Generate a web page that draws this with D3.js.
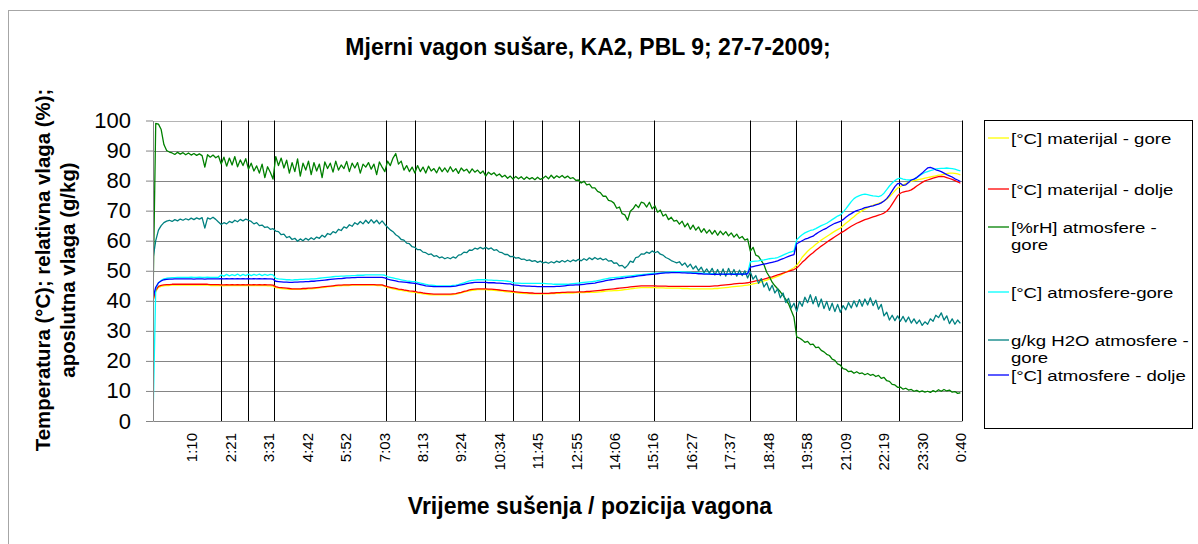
<!DOCTYPE html>
<html><head><meta charset="utf-8">
<script src="https://cdn.jsdelivr.net/npm/d3@7"></script>
<style>
body{margin:0;background:#fff;}
svg text{font-family:Arial,"Liberation Sans",sans-serif;fill:#000;}
</style>
</head><body>
<svg id="chart" width="1198" height="544"></svg>
<script>
// ---------- texts ----------
const chartTitle = "Mjerni vagon sušare, KA2, PBL 9; 27-7-2009;";
const xTitle = "Vrijeme sušenja / pozicija vagona";
const yTitleLines = ["Temperatura (°C); relativna vlaga (%);", "aposlutna vlaga (g/kg)"];

// ---------- axes ----------
const yTicks = [0,10,20,30,40,50,60,70,80,90,100];
const tickMinutes = [70,141,211,282,352,423,493,564,634,705,775,846,916,987,1057,1128,1198,1269,1339,1410,1480];
const tickLabels = ["1:10","2:21","3:31","4:42","5:52","7:03","8:13","9:24","10:34","11:45","12:55","14:06","15:16","16:27","17:37","18:48","19:58","21:09","22:19","23:30","0:40"];
// wagon position marks (minutes from start)
const wagonMinutes = [125,174,222,428,480,609,660,714,781,918,1094,1178,1261,1367,1483];

// ---------- series ----------
const seriesNames = ["[°C] materijal - gore","[°C] materijal - dolje","[%rH] atmosfere - gore","[°C] atmosfere-gore","g/kg H2O atmosfere - gore","[°C] atmosfere - dolje"];
const legendLines = [["[°C] materijal - gore"],["[°C] materijal - dolje"],["[%rH] atmosfere -","gore"],["[°C] atmosfere-gore"],["g/kg H2O atmosfere -","gore"],["[°C] atmosfere - dolje"]];

// sample times: minutes from start, every 5 minutes (0 ... 1480)
const minutes = d3.range(0, 1481, 5);

const matGore = [
40,43,44.5,44.8,45,45.1,45.1,45.2,45.2,45.2,45.2,45.2,
45.2,45.2,45.2,45.2,45.2,45.2,45.2,45.2,45.2,45.1,45.1,45.1,
45.1,45.1,45,45.1,45.1,45.1,45.1,45.1,45.1,45.1,45.1,45.1,
45.1,45.1,45.1,45.1,45.1,45.1,45,45,44.9,44.4,44.2,44.1,
44,43.9,43.8,43.8,43.8,43.8,43.8,43.9,43.9,44,44,44.1,
44.2,44.3,44.4,44.5,44.6,44.7,44.8,44.9,45,45,45.1,45.1,
45.1,45.2,45.2,45.2,45.2,45.2,45.2,45.2,45.2,45.2,45.1,45.1,
45.1,44.8,44.4,44.2,44,43.8,43.6,43.5,43.3,43.2,43,42.9,
42.8,42.6,42.5,42.3,42.2,42.1,42,42,42,42,42,42,
42,42,42.1,42.2,42.4,42.6,42.9,43.1,43.3,43.5,43.6,43.7,
43.7,43.7,43.7,43.6,43.6,43.5,43.4,43.3,43.2,43.1,43,42.9,
42.8,42.7,42.6,42.5,42.5,42.4,42.4,42.3,42.3,42.3,42.3,42.3,
42.3,42.3,42.4,42.4,42.5,42.5,42.6,42.6,42.6,42.6,42.6,42.7,
42.7,42.7,42.7,42.8,42.8,42.8,42.8,42.9,43,43.1,43.2,43.3,
43.3,43.4,43.4,43.5,43.6,43.7,43.8,44,44.1,44.2,44.3,44.4,
44.4,44.4,44.4,44.4,44.4,44.3,44.3,44.3,44.2,44.2,44.2,44.2,
44.2,44.2,44.1,44.1,44.1,44,44,44,44,44,44,44,
44,44,44.1,44.1,44.2,44.3,44.4,44.5,44.6,44.7,44.8,44.9,
45,45.1,45.2,45.4,45.6,45.8,46,46.3,46.6,46.9,47.2,47.5,
47.8,48.1,48.5,49,49.5,50,50.5,51,51.8,53,54.5,55.5,
56.5,57.3,58,58.8,59.5,60.2,60.8,61.4,62,62.6,63.2,63.7,
64.2,65,65.8,66.5,67.3,68,68.8,69.4,70,70.5,71,71.4,
71.8,72.1,72.4,72.8,73.2,73.8,74.6,75.6,76.6,77.5,78,78.5,
79,79.4,79.8,80,80.2,80.4,80.6,80.8,81,81.2,81.4,81.6,
81.8,81.9,82.1,82.3,82.5,82.5,82.4,82.2,81.9];

const matDolje = [
40,43.5,44.8,45.1,45.3,45.4,45.4,45.5,45.5,45.5,45.5,45.5,
45.5,45.5,45.5,45.5,45.5,45.5,45.5,45.5,45.5,45.4,45.4,45.4,
45.4,45.3,45.3,45.4,45.3,45.4,45.3,45.4,45.3,45.4,45.3,45.4,
45.3,45.4,45.3,45.4,45.3,45.4,45.3,45.3,45.2,44.7,44.5,44.4,
44.3,44.2,44.1,44,44,44,44,44.1,44.1,44.2,44.2,44.3,
44.4,44.5,44.6,44.7,44.8,44.9,45,45.1,45.2,45.2,45.3,45.3,
45.3,45.4,45.4,45.4,45.4,45.4,45.4,45.4,45.4,45.4,45.3,45.3,
45.3,45,44.7,44.5,44.3,44.1,43.9,43.8,43.6,43.5,43.3,43.2,
43.1,42.9,42.8,42.6,42.5,42.4,42.3,42.2,42.2,42.2,42.2,42.2,
42.2,42.2,42.3,42.4,42.6,42.8,43.1,43.3,43.6,43.8,43.9,44,
44,44,44,43.9,43.9,43.8,43.7,43.6,43.5,43.4,43.3,43.2,
43.1,43,42.9,42.8,42.7,42.7,42.6,42.6,42.5,42.5,42.5,42.5,
42.5,42.5,42.6,42.6,42.7,42.7,42.8,42.8,42.9,42.9,42.9,42.9,
43,43,43,43.1,43.1,43.2,43.3,43.4,43.5,43.6,43.7,43.8,
43.9,44,44.1,44.2,44.3,44.4,44.5,44.6,44.7,44.8,44.9,45,
45,45,45,45,45,44.9,44.9,44.9,44.9,44.8,44.8,44.8,
44.8,44.8,44.8,44.8,44.8,44.8,44.8,44.8,44.8,44.8,44.8,44.8,
44.8,44.9,45,45,45.1,45.2,45.3,45.4,45.5,45.6,45.7,45.8,
45.8,45.9,46,46.2,46.4,46.6,46.8,47,47.2,47.5,47.8,48,
48.3,48.6,48.9,49.2,49.5,49.8,50.1,50.4,50.9,51.8,52.8,53.6,
54.5,55.3,56,56.8,57.5,58.2,58.8,59.5,60.1,60.7,61.3,61.9,
62.5,63,63.6,64.2,64.8,65.3,65.8,66.2,66.6,67,67.3,67.6,
67.9,68.2,68.5,68.8,69.2,69.8,70.8,72.2,73.6,75,75.8,76.2,
76.4,76.6,76.9,77.5,78.2,78.8,79.4,79.9,80.2,80.5,80.8,81.1,
81.3,81.4,81.3,81,80.7,80.4,80,79.6,79.1];

const rhGore = [
40,99,98.8,97,92,90,89.5,89.2,88.7,89.4,88.8,89.3,
88.6,89.2,88.5,89,88.4,88.9,88.3,84.5,88.6,87.8,88.5,87.6,
88.2,85.5,87.8,84.8,87.5,85.2,88,84.6,86.9,85,87.3,83.8,
85.8,83.2,84.9,82.5,85.5,81,84.6,82.8,80.5,88,85,87.5,
84.2,86.8,82.5,86,83,87.2,81.5,85.8,83.5,86.5,82,86,
83.2,85.5,81,86.2,84,85.8,82.8,86.5,83.5,85.2,84,86.4,
83,85.8,84.2,86,82.5,85.5,84.5,86,83.8,85.5,82,86.2,
84.5,83,86.5,85,87.5,89,85.5,86.5,83.5,85,83,84.5,
82.5,85,83,84.5,82.5,84.8,83.2,84,82.6,84.5,83,84.2,
82.8,84.6,83,84,82.4,84.2,83.2,83.8,82.5,83.9,82.8,83.5,
82.4,83.2,81.5,82.8,82,82.6,81.6,82.2,81.2,81.8,80.8,81.5,
80.5,81.4,80.6,81.3,80.4,81.2,80.5,81,80.3,81.1,80.4,80.8,
81.5,80.6,81.8,80.8,81.6,81,81.7,80.9,81.5,80.7,81,80.1,
80.2,79.2,79.8,78.6,78.8,77.6,77.6,76.4,76,74.8,74.8,73.4,
73.2,72.5,70.8,71.2,69,68.6,66.8,69.8,70.6,72,71,72.8,
72.5,71.2,72.8,70.6,71.6,69.5,70.2,68.2,68.8,67,67.8,66.5,
66.8,65.5,66.5,64.6,65.8,63.8,65.2,63.5,64.6,62.8,64,62.5,
63.6,62.2,63.4,61.8,63.2,62,63,61.6,62.6,61.2,62.2,60.8,
61.4,60.2,60.6,56.5,57.8,55.2,54.8,53.4,52,49.5,48,46.2,
45,44,43,41.8,40.5,39,36.8,34.5,28,27.6,27,26.2,
26.5,25.4,25.6,24.4,24.6,23.5,23,22.2,21.8,20.6,20.2,19,
18.6,17.4,17.2,16.4,16.6,15.9,16.4,15.8,16,15.4,15.8,15.2,
15.5,14.8,15.2,14.2,14.5,13.4,13.2,12.2,12,11.2,11.3,10.6,
10.9,10.3,10.5,9.9,10.2,9.7,10,9.6,9.9,9.5,10.1,9.7,
10.4,9.9,10.5,10,10.3,9.6,9.8,9.2,9.4];

const atmGore = [
0,44,46,46.8,47.3,47.5,47.6,47.7,47.7,47.8,47.8,47.8,
47.8,47.8,47.9,47.8,47.8,47.9,47.8,47.8,47.9,47.8,47.8,47.8,
47.8,48.6,48.2,48.8,48.3,48.7,48.4,48.9,48.3,48.8,48.4,48.9,
48.4,48.8,48.5,48.9,48.4,48.8,48.5,48.8,48.6,47.5,47.3,47.2,
47.1,47,47,46.9,47,47,47.1,47.1,47.2,47.2,47.3,47.3,
47.4,47.5,47.6,47.7,47.8,47.9,48,48.1,48.1,48.2,48.2,48.3,
48.3,48.4,48.4,48.5,48.5,48.5,48.6,48.6,48.6,48.6,48.6,48.6,
48.6,48.5,48,47.8,47.6,47.4,47.2,47,46.8,46.6,46.5,46.4,
46.4,46.1,45.9,45.7,45.5,45.3,45.2,45.1,45,45,45,45,
45,45,45.1,45.2,45.4,45.7,46,46.3,46.6,46.8,46.9,47,
47,47,47,46.9,46.9,46.8,46.8,46.7,46.7,46.6,46.5,46.4,
46,45.9,45.9,45.8,45.8,45.8,45.8,45.8,45.8,45.8,45.8,45.8,
45.7,45.6,45.6,45.5,45.5,45.5,45.5,45.5,45.5,45.6,45.7,45.8,
45.9,46,46.1,46.2,46.3,46.4,46.5,46.7,46.9,47.1,47.3,47.5,
47.6,47.7,47.8,47.9,48,48.1,48.2,48.3,48.4,48.5,48.6,48.7,
48.8,48.9,49,49.1,49.2,49.2,49.3,49.4,49.5,49.5,49.6,49.6,
49.7,49.7,49.6,49.6,49.5,49.5,49.4,49.4,49.3,49.2,49.2,49.1,
49,49,49,48.9,48.9,48.9,48.9,49,49,49,49,49,
49,49,49.1,53,53.1,53.2,53.3,53.5,53.6,53.8,54,54.1,
54.2,54.4,54.8,55.2,55.6,56,56.3,56.6,60.3,61.2,62,62.6,
63,63.4,63.6,64,64.5,65,65.4,65.8,66.4,67,67.6,68.2,
68.6,69.5,70.6,71.8,73,74,74.6,75,75.3,75.5,75.3,75.1,
74.9,74.8,74.7,75,75.8,77,78.2,79.2,80,80.6,80.8,80.5,
80.3,80.2,80.2,80.5,81,81.6,82.2,82.7,83,83.3,83.6,83.9,
84,84.1,84.1,84.2,84.1,84,83.8,83.5,83.2];

const h2oGore = [
54,60,63.5,65,66,66.5,66.8,66.4,67,66.6,67.2,66.8,
67.3,66.9,67.5,67,67.6,67.2,67.7,64.2,67.6,67.2,67.8,67.1,
66.2,65.4,66,65.6,66.4,66,66.8,66.3,67.1,66.6,67.2,66.8,
66.4,65.6,66,65,65.2,64.4,64.6,63.8,64,63.2,63,62,
62.2,61,61.4,60.4,60.8,59.8,60.6,60,60.8,60.2,61,60.4,
61.2,60.8,61.8,61.2,62.4,62,63,62.6,63.8,63.4,64.6,64.2,
65.3,64.8,66,65.4,66.4,65.6,66.8,65.8,67,65.9,66.8,65.6,
66.6,65.4,64.5,63.6,63,62,61.4,60.4,60.2,59.2,59,58,
57.8,57,57,56.2,56,55.4,55.6,54.8,55,54.3,54.6,54,
54.4,54,54.6,54.2,55.2,55.4,56.2,56,56.9,56.8,57.5,57.2,
57.8,57.3,57.8,57.2,57.6,56.8,57,56.2,56,55.4,55.4,54.7,
54.8,54.2,54.4,53.8,53.9,53.4,53.6,53.1,53.4,52.8,53.2,52.6,
52.9,52.5,53,52.6,53.2,52.8,53.4,52.9,53.5,53,53.6,53.2,
53.8,53.3,54,53.5,54.3,53.7,54.4,53.8,54.2,53.6,54,53.2,
53.4,52.5,52.6,51.6,51.8,50.9,51.8,53.2,52.8,54.4,54.6,55.6,
55.5,56.2,55.8,56.6,56,56.4,55.5,55.2,54.4,54,53.4,53,
52.6,53,51.8,52.6,51.2,52.2,50.6,51.6,50,51.2,49.4,50.6,
49.2,50.8,48.6,50.4,48.4,50.6,48.2,50.8,48.6,50.4,48.2,50.2,
48.4,50,47.6,49.6,47.2,48.4,45.8,47.4,44.6,46,43.4,45.2,
42.6,44,41,42.6,39.4,40.8,37.6,39.2,36.4,39.8,38.2,41.2,
39.4,42,39,41.4,38,40.6,37.4,39.8,36.8,39.2,36.4,38.8,
36.2,38.4,37,39.4,37.6,40,38,40.4,38.2,40.6,38.6,41,
38.4,40.2,37.2,38.8,35,36.2,33.6,35.2,33.4,35,33.2,34.8,
33,34.6,32.6,34,32.4,33.6,31.8,33,32.2,34,33.2,35.2,
34.4,36,33.6,35,32.4,34,32.2,33.6,32.5];

const atmDolje = [
41,44.5,46,46.6,47,47.1,47.2,47.2,47.3,47.3,47.3,47.3,
47.3,47.3,47.3,47.2,47.3,47.3,47.3,47.2,47.3,47.3,47.3,47.3,
47.3,47.4,47.3,47.4,47.3,47.4,47.3,47.4,47.3,47.4,47.3,47.4,
47.3,47.4,47.3,47.4,47.3,47.4,47.3,47.3,47.2,46.5,46.4,46.3,
46.2,46.2,46.1,46.1,46.2,46.2,46.3,46.3,46.4,46.4,46.5,46.5,
46.6,46.7,46.8,46.9,47,47.1,47.2,47.3,47.4,47.4,47.5,47.6,
47.6,47.7,47.7,47.8,47.8,47.8,47.8,47.8,47.8,47.8,47.8,47.8,
47.8,47.6,47.2,47,46.8,46.6,46.4,46.3,46.2,46.1,46,45.9,
45.8,45.6,45.4,45.2,45,44.9,44.8,44.7,44.7,44.7,44.7,44.7,
44.7,44.7,44.8,44.9,45.1,45.3,45.5,45.7,45.9,46,46.1,46.1,
46.1,46.1,46.1,46,46,46,45.9,45.9,45.8,45.7,45.6,45.6,
45.3,45.2,45.1,45,45,44.9,44.9,44.8,44.8,44.7,44.7,44.7,
44.7,44.7,44.7,44.7,44.8,44.8,44.9,45,45.1,45.2,45.2,45.3,
45.3,45.4,45.5,45.6,45.7,45.8,45.9,46.1,46.3,46.5,46.7,46.9,
47,47.1,47.3,47.4,47.5,47.6,47.8,47.9,48,48.1,48.3,48.4,
48.5,48.6,48.7,48.8,48.9,49,49.1,49.2,49.3,49.3,49.4,49.4,
49.4,49.4,49.3,49.3,49.2,49.2,49.1,49.1,49,49,48.9,48.9,
48.9,48.8,48.9,48.8,48.9,48.9,48.8,48.9,48.9,48.8,48.9,48.9,
48.9,48.9,49,51.2,51.4,51.6,51.8,52,52.2,52.4,52.6,52.8,
53,53.3,53.7,54,54.4,54.8,55.1,55.4,59,59.5,60,60.5,
60.8,61.2,61.5,62.2,62.8,63.3,63.8,64.2,64.8,65.3,65.8,66.1,
66.4,67,67.8,68.5,69,69.6,70,70.3,70.6,71,71.2,71.4,
71.6,71.9,72.2,72.6,73.2,74,75.2,76.6,78,79,79.1,78.4,
78.6,79.4,80.2,80.5,81,81.8,82.5,83.4,84.2,84.4,84.1,83.6,
83.3,83,82.5,82,81.6,81.2,80.6,80.2,79.7];

const seriesValues = [matGore, matDolje, rhGore, atmGore, h2oGore, atmDolje];
const seriesColors = ["#ffff00","#ff0000","#008000","#00ffff","#008080","#0000ff"];

// ---------- drawing ----------
const svg = d3.select("#chart");
const plot = {left:153, right:962, top:120.5, bottom:421};

svg.append("rect").attr("x",0).attr("y",0).attr("width",1198).attr("height",544).attr("fill","#fff");
svg.append("rect").attr("x",8.5).attr("y",10.5).attr("width",1200).attr("height",540)
  .attr("fill","none").attr("stroke","#a6a6a6").attr("stroke-width",1);

const x = d3.scaleLinear().domain([0,1483]).range([plot.left, plot.right]);
const y = d3.scaleLinear().domain([0,100]).range([plot.bottom, plot.top]);

// horizontal gridlines
svg.append("g").selectAll("line").data(yTicks.filter(d=>d>0)).join("line")
  .attr("x1",plot.left).attr("x2",plot.right)
  .attr("y1",d=>Math.round(y(d))+0.5).attr("y2",d=>Math.round(y(d))+0.5)
  .attr("stroke",d=>d===100?"#b4b4b4":"#858585").attr("stroke-width",1);

// wagon position lines
svg.append("g").selectAll("line").data(wagonMinutes).join("line")
  .attr("x1",d=>Math.round(x(d))+0.5).attr("x2",d=>Math.round(x(d))+0.5)
  .attr("y1",plot.top).attr("y2",plot.bottom)
  .attr("stroke","#000").attr("stroke-width",1);

// series
svg.append("clipPath").attr("id","pc").append("rect")
  .attr("x",plot.left).attr("y",plot.top-2).attr("width",plot.right-plot.left).attr("height",plot.bottom-plot.top+2);
const line = d3.line().x((d,i)=>x(minutes[i])).y(d=>y(d));
const gs = svg.append("g").attr("clip-path","url(#pc)");
seriesValues.forEach((vals,k)=>{
  gs.append("path").datum(vals).attr("d",line)
    .attr("fill","none").attr("stroke",seriesColors[k]).attr("stroke-width",1.3)
    .attr("stroke-linejoin","round");
});

// y axis
const yAxis = svg.append("g").attr("transform",`translate(${plot.left},0)`)
  .call(d3.axisLeft(y).tickValues(yTicks).tickSize(7).tickSizeOuter(0).tickPadding(15));
yAxis.select(".domain").attr("stroke","#858585");
yAxis.selectAll(".tick line").attr("stroke","#858585");
yAxis.selectAll(".tick text").style("font-size","22px").attr("fill","#000");

// x axis
const xAxis = svg.append("g").attr("transform",`translate(0,${plot.bottom})`)
  .call(d3.axisBottom(x).tickValues(tickMinutes).tickFormat((d,i)=>tickLabels[i]).tickSize(0).tickSizeOuter(0));
xAxis.select(".domain").attr("stroke","#858585");
xAxis.selectAll(".tick text").style("font-size","15px").attr("fill","#000")
  .attr("transform","rotate(-90)").attr("text-anchor","end")
  .attr("x",-12).attr("y",0).attr("dy","0.35em");

// titles
svg.append("text").attr("x",588).attr("y",55).attr("text-anchor","middle")
  .style("font-size","23px").style("font-weight","bold").text(chartTitle);
svg.append("text").attr("x",590).attr("y",514).attr("text-anchor","middle")
  .style("font-size","23px").style("font-weight","bold").text(xTitle);
const yt = svg.append("text").attr("transform","translate(50,270) rotate(-90)")
  .attr("text-anchor","middle").style("font-size","20.4px").style("font-weight","bold");
yTitleLines.forEach((t,i)=>yt.append("tspan").attr("x",0).attr("y",i*25).text(t));

// legend
const lg = svg.append("g");
lg.append("rect").attr("x",984.5).attr("y",120.5).attr("width",208).attr("height",308)
  .attr("fill","#fff").attr("stroke","#000").attr("stroke-width",1);
const legendY = [138,189,227,292,340,375];
seriesNames.forEach((n,k)=>{
  const cy = legendY[k];
  lg.append("line").attr("x1",988).attr("x2",1009).attr("y1",cy).attr("y2",cy)
    .attr("stroke",seriesColors[k]).attr("stroke-width",1.3);
  const t = lg.append("text").style("font-size","15.5px")
    .attr("transform",`translate(1011,${cy+5.5}) scale(1.2,1)`);
  legendLines[k].forEach((s,j)=>t.append("tspan").attr("x",0).attr("y",j*18).text(s));
});
</script>
</body></html>
